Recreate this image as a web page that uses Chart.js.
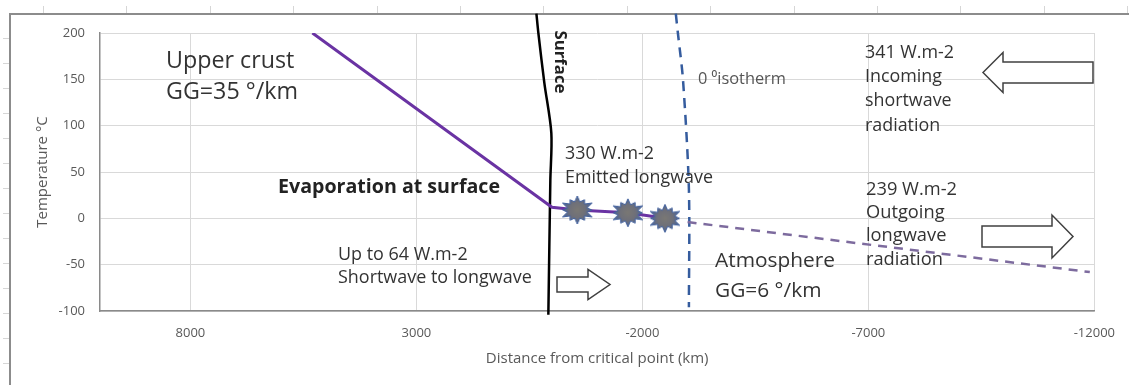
<!DOCTYPE html>
<html>
<head>
<meta charset="utf-8">
<title>Temperature profile</title>
<script src="https://cdn.jsdelivr.net/npm/chart.js@4/dist/chart.umd.min.js"></script>
<style>
  html, body { margin: 0; padding: 0; background: #fff; }
  #wrap { width: 1129px; height: 385px; position: relative; }
</style>
</head>
<body>
<div id="wrap"><canvas id="chart"></canvas></div>
<script>
// axis ticks
const xTicks = [8000, 3000, -2000, -7000, -12000];

// upper crust line, last three points are the evaporation stars
const crustX = [5300, 0, -560, -1680, -2500];
const crustT = [200, 12, 9, 6, 0];

// atmosphere lapse line
const atmosX = [-3000, -11900];
const atmosT = [-4, -58];

// surface line (goes a bit above the plot)
const surfaceX = [344, 301, 168, 14, 36, 80];
const surfaceT = [221, 200, 146, 92, 41, -104];

// 0 degree isotherm
const isoX = [-2740, -2786, -2900, -3030, -3030];
const isoT = [221, 200, 149, 31, -96];

const pts = (xs, ys) => xs.map((x, i) => ({ x, y: ys[i] }));

const FONT = '"Open Sans", sans-serif';
Chart.defaults.font.family = FONT;

function makeStar() {
  const c = document.createElement("canvas");
  c.width = 36;
  c.height = 30;
  const g = c.getContext("2d");
  const n = 12;
  g.beginPath();
  for (let i = 0; i < n * 2; i++) {
    const a = (Math.PI * i) / n - Math.PI / 2;
    const r = i % 2 === 0 ? (i % 4 === 0 ? 1 : 0.85) : 0.6;
    const px = 18 + Math.cos(a) * 17 * r;
    const py = 15 + Math.sin(a) * 14 * r;
    if (i === 0) g.moveTo(px, py); else g.lineTo(px, py);
  }
  g.closePath();
  const grad = g.createRadialGradient(18, 15, 0, 18, 15, 17);
  grad.addColorStop(0, "#7a7874");
  grad.addColorStop(0.45, "#6f7079");
  grad.addColorStop(1, "#40609f");
  g.fillStyle = grad;
  g.fill();
  g.lineWidth = 1;
  g.strokeStyle = "#42619e";
  g.stroke();
  return c;
}
const star = makeStar();

// text notes: left x, baselines, target width of the widest line
const notes = [
  { lines: ["Upper crust", "GG=35 °/km"], x: 166, y: [68, 99], width: 132, bold: false, color: "#333" },
  { lines: ["Evaporation at surface"], x: 278, y: [193], width: 222, bold: true, color: "#222" },
  { lines: ["0 ⁰isotherm"], x: 698, y: [84], width: 88, bold: false, color: "#555" },
  { lines: ["330 W.m-2", "Emitted longwave"], x: 565, y: [159, 183], width: 148, bold: false, color: "#333" },
  { lines: ["341 W.m-2", "Incoming", "shortwave", "radiation"], x: 865, y: [58, 82, 106, 131], width: 89, bold: false, color: "#333" },
  { lines: ["239 W.m-2", "Outgoing", "longwave", "radiation"], x: 866, y: [195, 218, 241, 265], width: 91, bold: false, color: "#333" },
  { lines: ["Up to 64 W.m-2", "Shortwave to longwave"], x: 338, y: [260, 283], width: 194, bold: false, color: "#333" },
  { lines: ["Atmosphere", "GG=6 °/km"], x: 715, y: [267, 297], width: 120, bold: false, color: "#333" }
];

// hollow block arrows
const arrows = [
  { tail: 1093, tip: 983, neck: 1003, cy: 72.5, body: 10.5, head: 20 },
  { tail: 982, tip: 1073, neck: 1052, cy: 236.5, body: 10.5, head: 21.5 },
  { tail: 557, tip: 610, neck: 588, cy: 284.5, body: 7.5, head: 15 }
];

function fitFont(ctx, lines, width, bold) {
  const w = bold ? "700" : "400";
  ctx.font = `${w} 20px ${FONT}`;
  const widest = Math.max(...lines.map(l => ctx.measureText(l).width));
  const size = (20 * width) / widest;
  return `${w} ${size.toFixed(2)}px ${FONT}`;
}

const overlay = {
  id: "overlay",
  beforeDraw(chart) {
    const ctx = chart.ctx;
    ctx.save();
    ctx.strokeStyle = "#d6d6d6";
    ctx.lineWidth = 1;
    ctx.beginPath();
    for (let x = 43; x < 1129; x += 83.4) {
      ctx.moveTo(Math.round(x) + 0.5, 6);
      ctx.lineTo(Math.round(x) + 0.5, 13);
    }
    for (let y = 38; y < 385; y += 25) {
      ctx.moveTo(3, y + 0.5);
      ctx.lineTo(9, y + 0.5);
    }
    ctx.stroke();
    ctx.strokeStyle = "#8c8c8c";
    ctx.lineWidth = 2;
    ctx.beginPath();
    ctx.moveTo(10, 385);
    ctx.lineTo(10, 14);
    ctx.lineTo(1129, 14);
    ctx.stroke();
    ctx.restore();
  },
  afterDatasetsDraw(chart) {
    const ctx = chart.ctx;
    ctx.save();
    arrows.forEach(a => {
      ctx.beginPath();
      ctx.moveTo(a.tail, a.cy - a.body);
      ctx.lineTo(a.neck, a.cy - a.body);
      ctx.lineTo(a.neck, a.cy - a.head);
      ctx.lineTo(a.tip, a.cy);
      ctx.lineTo(a.neck, a.cy + a.head);
      ctx.lineTo(a.neck, a.cy + a.body);
      ctx.lineTo(a.tail, a.cy + a.body);
      ctx.closePath();
      ctx.fillStyle = "#fff";
      ctx.fill();
      ctx.strokeStyle = "#404040";
      ctx.lineWidth = 1.5;
      ctx.stroke();
    });

    ctx.textBaseline = "alphabetic";
    ctx.textAlign = "left";
    notes.forEach(n => {
      ctx.font = fitFont(ctx, n.lines, n.width, n.bold);
      ctx.fillStyle = n.color;
      n.lines.forEach((line, i) => ctx.fillText(line, n.x, n.y[i]));
    });

    // rotated "Surface" label
    ctx.translate(560, 62);
    ctx.rotate(Math.PI / 2);
    ctx.font = fitFont(ctx, ["Surface"], 63, true);
    ctx.textAlign = "center";
    ctx.textBaseline = "middle";
    ctx.fillStyle = "#222";
    ctx.fillText("Surface", 0, 0);
    ctx.restore();
  }
};

new Chart(document.getElementById("chart"), {
  type: "scatter",
  data: {
    datasets: [
      {
        data: pts(crustX, crustT),
        showLine: true,
        borderColor: "#6a33a3",
        borderWidth: 3,
        pointStyle: star,
        pointRadius: ctx => (ctx.dataIndex >= 2 ? 6 : 0)
      },
      {
        data: pts(atmosX, atmosT),
        showLine: true,
        borderColor: "#7d6b9e",
        borderWidth: 2.5,
        borderDash: [9, 7],
        pointRadius: 0
      },
      {
        data: pts(surfaceX, surfaceT),
        showLine: true,
        borderColor: "#000",
        borderWidth: 2.5,
        tension: 0.3,
        pointRadius: 0,
        clip: false
      },
      {
        data: pts(isoX, isoT),
        showLine: true,
        borderColor: "#355c9e",
        borderWidth: 2.5,
        borderDash: [10, 7],
        tension: 0.3,
        pointRadius: 0,
        clip: false
      }
    ]
  },
  options: {
    responsive: true,
    maintainAspectRatio: false,
    animation: false,
    layout: { padding: { left: 0, right: 31, top: 33, bottom: 0 } },
    plugins: { legend: { display: false }, tooltip: { enabled: false } },
    scales: {
      x: {
        type: "linear",
        reverse: true,
        min: -12000,
        max: 10000,
        afterBuildTicks: s => { s.ticks = xTicks.map(v => ({ value: v })); },
        afterFit: s => { s.height = 74; },
        grid: { color: "#d9d9d9", drawTicks: false },
        border: { color: "#8a8a8a", width: 1.5 },
        ticks: { color: "#595959", font: { size: 13 }, padding: 14, maxRotation: 0, autoSkip: false, callback: v => String(v) },
        title: { display: true, text: "Distance from critical point (km)", color: "#595959", font: { size: 15 }, padding: { top: 0, bottom: 17 } }
      },
      y: {
        min: -100,
        max: 200,
        afterFit: s => { s.width = 100; },
        grid: { color: "#d9d9d9", drawTicks: false },
        border: { color: "#8a8a8a", width: 1.5 },
        ticks: { stepSize: 50, color: "#595959", font: { size: 13 }, padding: 15 },
        title: { display: true, text: "Temperature °C", color: "#595959", font: { size: 15 }, padding: { top: 34, bottom: 0 } }
      }
    }
  },
  plugins: [overlay]
});
</script>
</body>
</html>
